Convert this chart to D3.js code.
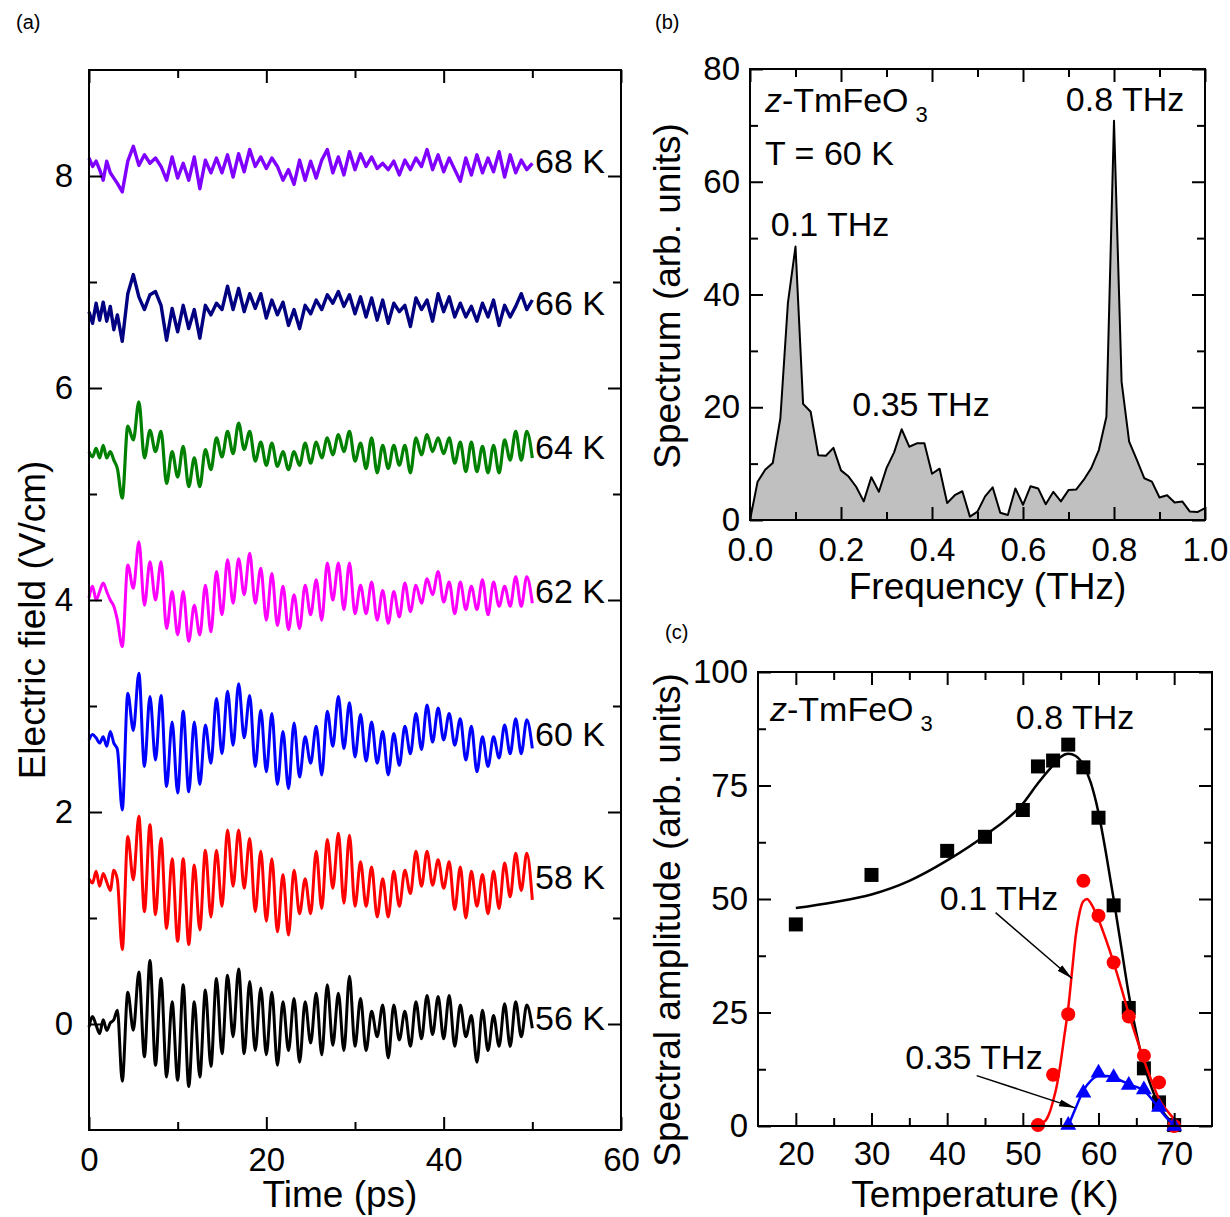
<!DOCTYPE html>
<html><head><meta charset="utf-8">
<script src="https://cdn.jsdelivr.net/npm/d3@7"></script>
<style>
body{margin:0;background:#fff;}
svg{display:block;font-family:"Liberation Sans",Arial,Helvetica,sans-serif;}
</style></head><body>
<svg id="fig" width="1230" height="1217"></svg>
<script>
// ---------------- DATA ----------------
// (a) time-domain traces (values in V/cm, already offset as plotted)
const timePs = [0,0.4,0.8,1.2,1.6,2,2.4,2.8,3.2,
3.75,4.375,5,5.625,6.25,6.875,7.5,8.125,8.75,9.375,
10,10.625,11.25,11.875,12.5,13.125,13.75,14.375,15,15.625,
16.25,16.875,17.5,18.125,18.75,19.375,20,20.625,21.25,21.875,
22.5,23.125,23.75,24.375,25,25.625,26.25,26.875,27.5,28.125,
28.75,29.375,30,30.625,31.25,31.875,32.5,33.125,33.75,34.375,
35,35.625,36.25,36.875,37.5,38.125,38.75,39.375,40,40.625,
41.25,41.875,42.5,43.125,43.75,44.375,45,45.625,46.25,46.875,
47.5,48.125,48.75,49.375,50];

const trace56K = [-0.03,0.07,-0.01,-0.09,0.04,-0.06,0.01,0.04,0.13,
-0.54,0.30,-0.06,0.49,-0.31,0.60,-0.39,0.43,-0.50,0.21,
-0.53,0.37,-0.59,0.21,-0.50,0.32,-0.40,0.43,-0.28,0.46,
-0.12,0.52,-0.28,0.40,-0.25,0.34,-0.29,0.30,-0.39,0.21,
-0.25,0.24,-0.36,0.21,-0.18,0.29,-0.29,0.37,-0.20,0.29,
-0.25,0.45,-0.21,0.24,-0.25,0.12,-0.12,0.18,-0.32,0.18,
-0.15,0.12,-0.21,0.21,-0.14,0.27,-0.10,0.26,-0.14,0.27,
-0.21,0.18,-0.12,0.08,-0.36,0.13,-0.25,0.08,-0.21,0.19,
-0.21,0.21,-0.12,0.18,-0.04];

const trace58K = [1.37,1.33,1.44,1.30,1.42,1.34,1.26,1.45,1.36,
0.70,1.77,1.36,1.96,1.06,1.88,1.03,1.75,0.90,1.56,
0.78,1.56,0.75,1.50,0.89,1.64,1.01,1.64,1.11,1.83,
1.30,1.83,1.28,1.75,1.06,1.63,0.97,1.56,0.87,1.41,
0.84,1.45,1.04,1.37,1.04,1.63,1.09,1.74,1.28,1.80,
1.14,1.78,1.11,1.53,1.11,1.48,1.01,1.37,1.01,1.44,
1.11,1.45,1.23,1.63,1.30,1.63,1.31,1.55,1.28,1.53,
1.08,1.48,1.00,1.44,1.11,1.41,1.04,1.44,1.09,1.52,
1.20,1.61,1.26,1.61,1.17];

const trace60K = [2.68,2.73,2.70,2.65,2.71,2.62,2.76,2.65,2.59,
2.02,3.12,2.77,3.31,2.43,3.09,2.49,3.10,2.24,2.85,
2.18,2.95,2.19,2.85,2.26,2.82,2.46,3.07,2.55,3.14,
2.63,3.21,2.70,3.10,2.43,2.96,2.38,2.93,2.26,2.76,
2.22,2.84,2.33,2.71,2.46,2.81,2.35,2.95,2.62,3.09,
2.60,3.03,2.52,2.92,2.48,2.85,2.46,2.76,2.35,2.74,
2.44,2.81,2.55,2.93,2.59,3.01,2.66,2.98,2.68,2.93,
2.63,2.88,2.49,2.81,2.38,2.71,2.43,2.71,2.51,2.82,
2.55,2.88,2.55,2.87,2.60];

const trace62K = [4.02,4.13,4.00,4.08,4.16,4.08,4.00,3.94,3.81,
3.56,4.33,4.11,4.55,3.95,4.36,4.00,4.36,3.73,4.08,
3.67,4.08,3.61,3.95,3.67,4.14,3.70,4.27,3.86,4.38,
3.97,4.39,4.05,4.44,3.97,4.30,3.81,4.25,3.76,4.13,
3.72,4.05,3.73,4.14,3.86,4.19,3.81,4.35,4.00,4.35,
3.91,4.35,3.87,4.14,3.87,4.17,3.81,4.09,3.78,4.08,
3.84,4.16,3.89,4.14,3.97,4.20,4.05,4.27,3.98,4.17,
3.87,4.17,3.91,4.13,3.91,4.19,3.86,4.17,3.94,4.13,
3.94,4.22,3.94,4.22,3.97];

const trace64K = [5.40,5.35,5.43,5.34,5.46,5.34,5.40,5.32,5.24,
4.96,5.64,5.51,5.87,5.34,5.60,5.40,5.59,5.10,5.40,
5.16,5.45,5.07,5.34,5.07,5.42,5.23,5.53,5.35,5.59,
5.38,5.67,5.42,5.59,5.31,5.49,5.27,5.48,5.26,5.40,
5.23,5.40,5.27,5.48,5.29,5.49,5.34,5.53,5.37,5.56,
5.40,5.59,5.31,5.48,5.24,5.53,5.20,5.46,5.24,5.46,
5.27,5.46,5.20,5.53,5.37,5.56,5.40,5.53,5.38,5.53,
5.29,5.49,5.21,5.49,5.21,5.45,5.20,5.46,5.20,5.51,
5.32,5.59,5.32,5.59,5.34];

const trace66K = [6.72,6.61,6.80,6.64,6.81,6.63,6.77,6.55,6.69,
6.44,6.89,7.07,6.86,6.74,6.88,6.91,6.78,6.45,6.75,
6.53,6.78,6.56,6.74,6.47,6.78,6.69,6.80,6.74,6.96,
6.74,6.94,6.72,6.89,6.75,6.89,6.66,6.83,6.69,6.81,
6.59,6.74,6.56,6.78,6.70,6.83,6.74,6.88,6.80,6.91,
6.77,6.88,6.70,6.86,6.67,6.85,6.64,6.83,6.61,6.80,
6.72,6.78,6.58,6.85,6.74,6.83,6.63,6.89,6.72,6.86,
6.67,6.80,6.67,6.77,6.63,6.80,6.67,6.83,6.59,6.78,
6.67,6.77,6.89,6.74,6.83];

const trace68K = [8.17,8.09,8.14,8.06,7.96,8.14,8.03,7.98,7.93,
7.85,8.14,8.28,8.10,8.20,8.12,8.17,8.09,7.96,8.18,
7.98,8.12,7.96,8.18,7.88,8.15,8.03,8.17,8.03,8.20,
7.99,8.21,8.04,8.25,8.09,8.18,8.07,8.17,8.09,7.96,
8.06,7.92,8.15,7.96,8.14,7.98,8.15,8.25,8.03,8.18,
8.01,8.23,8.06,8.21,8.09,8.18,8.07,8.12,8.06,8.14,
8.01,8.15,8.06,8.17,8.09,8.25,8.06,8.20,8.04,8.17,
8.06,7.95,8.17,8.01,8.20,8.03,8.17,8.04,8.23,7.99,
8.20,8.03,8.15,8.06,8.12];

const traceNames = ["56 K","58 K","60 K","62 K","64 K","66 K","68 K"];
const timeTicks = [0,20,40,60];
const timeMinorTicks = [10,30,50];
const fieldTicks = [0,2,4,6,8];
const fieldMinorTicks = [1,3,5,7];

// (b) spectrum at T = 60 K
const freqTHz = [0,0.0167,0.0333,0.05,0.0667,0.0833,0.1,0.1167,0.1333,0.15,
0.1667,0.1833,0.2,0.2167,0.2333,0.25,0.2667,0.2833,0.3,0.3167,
0.3333,0.35,0.3667,0.3833,0.4,0.4167,0.4333,0.45,0.4667,0.4833,
0.5,0.5167,0.5333,0.55,0.5667,0.5833,0.6,0.6167,0.6333,0.65,
0.6667,0.6833,0.7,0.7167,0.7333,0.75,0.7667,0.7833,0.8,0.8167,
0.8333,0.85,0.8667,0.8833,0.9,0.9167,0.9333,0.95,0.9667,0.9833,1.0];
const spectrum60K = [0,6.8,8.9,10.1,18.0,38.5,48.5,20.6,19.2,11.5,
11.4,12.8,8.8,7.7,5.9,3.3,7.6,5.0,9.2,12.0,
16.1,13.0,13.6,13.6,8.2,9.1,3.0,4.4,5.1,0.6,
1.5,4.2,5.8,1.3,0.9,5.6,2.7,6.0,5.6,2.8,
5.0,3.3,5.3,5.4,7.1,9.2,12.4,18.3,70.8,24.5,
13.9,10.7,7.4,6.8,4.0,4.4,3.1,3.3,1.5,1.4,2.1];
const freqTicks = [0,0.2,0.4,0.6,0.8,1.0];
const freqMinorTicks = [0.1,0.3,0.5,0.7,0.9];
const specTicks = [0,20,40,60,80];
const specMinorTicks = [10,30,50,70];

// (c) spectral amplitude vs temperature
const tempAmp08 = [20,30,40,45,50,52,54,56,58,60,62,64,66,68,70];
const amp08 = [44.4,55.3,60.6,63.7,69.6,79.2,80.5,84.0,79.0,67.9,48.6,26.0,12.7,5.2,0.2];
const tempAmp01 = [52,54,56,58,60,62,64,66,68,70];
const amp01 = [0.2,11.3,24.6,54.0,46.3,36.0,24.1,15.5,9.6,0];
const tempAmp035 = [56,58,60,62,64,66,68,70];
const amp035 = [0.4,7.5,11.9,10.9,9.2,8.2,4.4,0.2];

const fitTemp08 = [20,25,30,35,40,45,50,52,54,55,56,57,58,59,60,61,62,63,64,65,66,67,68,69,70];
const fit08 = [48,49.3,51,54,58.5,64,71,75.5,79.5,81.3,82,81.5,79.5,75.5,69,60,50,39.5,29,20.5,13.5,8.5,4.5,2,0.5];
const fitTemp01 = [52,53,53.5,54,54.5,55,55.5,56,56.5,57,57.5,58,58.5,59,60,61,62,63,64,65,66,67,68,69,70];
const fit01 = [0.3,1.2,2.8,5.5,9,14,20,26,34,42,47,49.5,50,49,45.5,41,36,30.5,24.7,19.5,14.5,10,6,3.5,1.5];
const fitTemp035 = [56,57,58,59,60,61,62,63,64,65,66,67,68,69,70];
const fit035 = [0,4,7.8,10,11,11,10.7,10,9.2,8.6,7.8,6,3.8,1.8,0.3];

const tempTicks = [20,30,40,50,60,70];
const tempMinorTicks = [25,35,45,55,65];
const ampTicks = [0,25,50,75,100];
const ampMinorTicks = [12.5,37.5,62.5,87.5];

// ---------------- STYLE ----------------
const traceColors = ["#000000","#ff0000","#0000ff","#ff00ff","#008000","#000080","#8000ff"];
const traceWidths = [3,3,3,3,3.2,3.4,3.4];
const TICK_FS = 33, TITLE_FS = 37, ANN_FS = 34;

const svg = d3.select("#fig");
svg.append("rect").attr("width",1230).attr("height",1217).attr("fill","#fff");

const defs = svg.append("defs");
defs.append("marker").attr("id","arrowHead")
  .attr("viewBox","0 0 16 10").attr("refX",16).attr("refY",5)
  .attr("markerWidth",16).attr("markerHeight",10)
  .attr("markerUnits","userSpaceOnUse").attr("orient","auto")
  .append("path").attr("d","M0,1.5 L16,5 L0,8.5 Z").attr("fill","#000");

function frame(x, y, o){
  const g = svg.append("g");
  const [xl, xr] = x.range();
  const [yb, yt] = y.range();
  const style = sel => {
    sel.select(".domain").remove();
    sel.selectAll(".tick line").attr("stroke","#000").attr("stroke-width",2);
    sel.selectAll(".tick text").attr("fill","#000").attr("font-size",TICK_FS)
      .attr("font-family",'"Liberation Sans",Arial,Helvetica,sans-serif');
  };
  g.append("g").attr("transform",`translate(0,${yb})`)
    .call(d3.axisBottom(x).tickValues(o.xMajor).tickSize(-13).tickPadding(o.xPad).tickFormat(o.xFmt)).call(style);
  g.append("g").attr("transform",`translate(0,${yb})`)
    .call(d3.axisBottom(x).tickValues(o.xMinor).tickSize(-8).tickFormat("")).call(style);
  g.append("g").attr("transform",`translate(0,${yt})`)
    .call(d3.axisTop(x).tickValues(o.xMajor).tickSize(-13).tickFormat("")).call(style);
  g.append("g").attr("transform",`translate(0,${yt})`)
    .call(d3.axisTop(x).tickValues(o.xMinor).tickSize(-8).tickFormat("")).call(style);
  g.append("g").attr("transform",`translate(${xl},0)`)
    .call(d3.axisLeft(y).tickValues(o.yMajor).tickSize(-13).tickPadding(o.yPad).tickFormat(o.yFmt)).call(style);
  g.append("g").attr("transform",`translate(${xl},0)`)
    .call(d3.axisLeft(y).tickValues(o.yMinor).tickSize(-8).tickFormat("")).call(style);
  g.append("g").attr("transform",`translate(${xr},0)`)
    .call(d3.axisRight(y).tickValues(o.yMajor).tickSize(-13).tickFormat("")).call(style);
  g.append("g").attr("transform",`translate(${xr},0)`)
    .call(d3.axisRight(y).tickValues(o.yMinor).tickSize(-8).tickFormat("")).call(style);
  g.append("rect").attr("x",xl).attr("y",yt).attr("width",xr-xl).attr("height",yb-yt)
    .attr("fill","none").attr("stroke","#000").attr("stroke-width",2);
  svg.append("text").attr("x",(xl+xr)/2 + (o.xTitleDx||0)).attr("y",o.xTitleY)
    .attr("text-anchor","middle").attr("font-size",TITLE_FS).text(o.xTitle);
  svg.append("text").attr("transform",`translate(${o.yTitleX},${o.yTitleCy}) rotate(-90)`)
    .attr("text-anchor","middle").attr("font-size",TITLE_FS).text(o.yTitle);
  return g;
}

function panelLabel(txt,x,y){
  svg.append("text").attr("x",x).attr("y",y).attr("font-size",20).text(txt);
}

function formula(x, y, size){
  const t = svg.append("text").attr("x",x).attr("y",y).attr("font-size",size);
  t.append("tspan").attr("font-style","italic").text("z");
  t.append("tspan").text("-TmFeO");
  t.append("tspan").attr("font-size",22).attr("dx",7).attr("dy",10).text("3");
}

// ---------------- PANEL (a) ----------------
const xA = d3.scaleLinear().domain([0,60]).range([89,621]);
const yA = d3.scaleLinear().domain([-1,9]).range([1130,70]);
const traces = [trace56K,trace58K,trace60K,trace62K,trace64K,trace66K,trace68K];

const gA = svg.append("g");
const lineSmooth = d3.line().x(d=>xA(d[0])).y(d=>yA(d[1])).curve(d3.curveMonotoneX);
const lineSharp = d3.line().x(d=>xA(d[0])).y(d=>yA(d[1]));
traces.forEach((vals,i)=>{
  gA.append("path").datum(d3.zip(timePs, vals))
    .attr("d", i < 5 ? lineSmooth : lineSharp).attr("fill","none").attr("stroke",traceColors[i])
    .attr("stroke-width",traceWidths[i]).attr("stroke-linejoin","round");
  const level = d3.mean(vals) + 0.05;
  gA.append("text").attr("x",xA(50.3)).attr("y",yA(level)+12)
    .attr("font-size",ANN_FS).text(traceNames[i]);
});
frame(xA,yA,{xMajor:timeTicks,xMinor:timeMinorTicks,yMajor:fieldTicks,yMinor:fieldMinorTicks,
  xFmt:d3.format("d"),yFmt:d3.format("d"),xPad:18,yPad:16,
  xTitle:"Time (ps)",xTitleY:1207,xTitleDx:-15,yTitle:"Electric field (V/cm)",yTitleX:45,yTitleCy:620});
panelLabel("(a)",16,29);

// ---------------- PANEL (b) ----------------
const xB = d3.scaleLinear().domain([0,1]).range([750,1205]);
const yB = d3.scaleLinear().domain([0,80]).range([520,69]);
const specData = d3.zip(freqTHz, spectrum60K);
svg.append("path").datum(specData)
  .attr("d",d3.area().x(d=>xB(d[0])).y0(yB(0)).y1(d=>yB(d[1])))
  .attr("fill","#c0c0c0");
svg.append("path").datum(specData)
  .attr("d",d3.line().x(d=>xB(d[0])).y(d=>yB(d[1])))
  .attr("fill","none").attr("stroke","#000").attr("stroke-width",2).attr("stroke-linejoin","round");
frame(xB,yB,{xMajor:freqTicks,xMinor:freqMinorTicks,yMajor:specTicks,yMinor:specMinorTicks,
  xFmt:d3.format(".1f"),yFmt:d3.format("d"),xPad:18,yPad:10,
  xTitle:"Frequency (THz)",xTitleY:599,xTitleDx:10,yTitle:"Spectrum (arb. units)",yTitleX:680,yTitleCy:296});
formula(765,112,ANN_FS);
svg.append("text").attr("x",765).attr("y",165).attr("font-size",ANN_FS).text("T = 60 K");
svg.append("text").attr("x",830).attr("y",236).attr("text-anchor","middle").attr("font-size",ANN_FS).text("0.1 THz");
svg.append("text").attr("x",921).attr("y",416).attr("text-anchor","middle").attr("font-size",ANN_FS).text("0.35 THz");
svg.append("text").attr("x",1125).attr("y",111).attr("text-anchor","middle").attr("font-size",ANN_FS).text("0.8 THz");
panelLabel("(b)",655,29);

// ---------------- PANEL (c) ----------------
const xC = d3.scaleLinear().domain([15,75]).range([758,1212]);
const yC = d3.scaleLinear().domain([0,100]).range([1126,672]);
const lineC = d3.line().x(d=>xC(d[0])).y(d=>yC(d[1])).curve(d3.curveMonotoneX);
const gC = svg.append("g");

gC.append("path").datum(d3.zip(fitTemp08,fit08)).attr("d",lineC)
  .attr("fill","none").attr("stroke","#000").attr("stroke-width",2.5);
gC.selectAll(".sq").data(d3.zip(tempAmp08,amp08)).join("rect")
  .attr("x",d=>xC(d[0])-7).attr("y",d=>yC(d[1])-7).attr("width",14).attr("height",14).attr("fill","#000");
gC.append("path").datum(d3.zip(fitTemp01,fit01)).attr("d",lineC)
  .attr("fill","none").attr("stroke","#ff0000").attr("stroke-width",2.5);
gC.selectAll(".ci").data(d3.zip(tempAmp01,amp01)).join("circle")
  .attr("cx",d=>xC(d[0])).attr("cy",d=>yC(d[1])).attr("r",7).attr("fill","#ff0000");
gC.append("path").datum(d3.zip(fitTemp035,fit035)).attr("d",lineC)
  .attr("fill","none").attr("stroke","#0000ff").attr("stroke-width",2.5);
const tri = d3.symbol().type(d3.symbolTriangle).size(110);
gC.selectAll(".tr").data(d3.zip(tempAmp035,amp035)).join("path")
  .attr("d",tri).attr("transform",d=>`translate(${xC(d[0])},${yC(d[1])+1})`).attr("fill","#0000ff");

frame(xC,yC,{xMajor:tempTicks,xMinor:tempMinorTicks,yMajor:ampTicks,yMinor:ampMinorTicks,
  xFmt:d3.format("d"),yFmt:d3.format("d"),xPad:16,yPad:10,
  xTitle:"Temperature (K)",xTitleY:1207,xTitleDx:0,yTitle:"Spectral amplitude (arb. units)",yTitleX:680,yTitleCy:920});

formula(770,721,ANN_FS);
svg.append("text").attr("x",1075).attr("y",729).attr("text-anchor","middle").attr("font-size",ANN_FS).text("0.8 THz");
svg.append("text").attr("x",999).attr("y",910).attr("text-anchor","middle").attr("font-size",ANN_FS).text("0.1 THz");
svg.append("text").attr("x",974).attr("y",1069).attr("text-anchor","middle").attr("font-size",ANN_FS).text("0.35 THz");
svg.append("line").attr("x1",xC(46.4)).attr("y1",yC(47)).attr("x2",xC(56.5)).attr("y2",yC(32.5))
  .attr("stroke","#000").attr("stroke-width",1.5).attr("marker-end","url(#arrowHead)");
svg.append("line").attr("x1",xC(43.9)).attr("y1",yC(11.1)).attr("x2",xC(56.9)).attr("y2",yC(4))
  .attr("stroke","#000").attr("stroke-width",1.5).attr("marker-end","url(#arrowHead)");
panelLabel("(c)",665,639);
</script>
</body></html>
